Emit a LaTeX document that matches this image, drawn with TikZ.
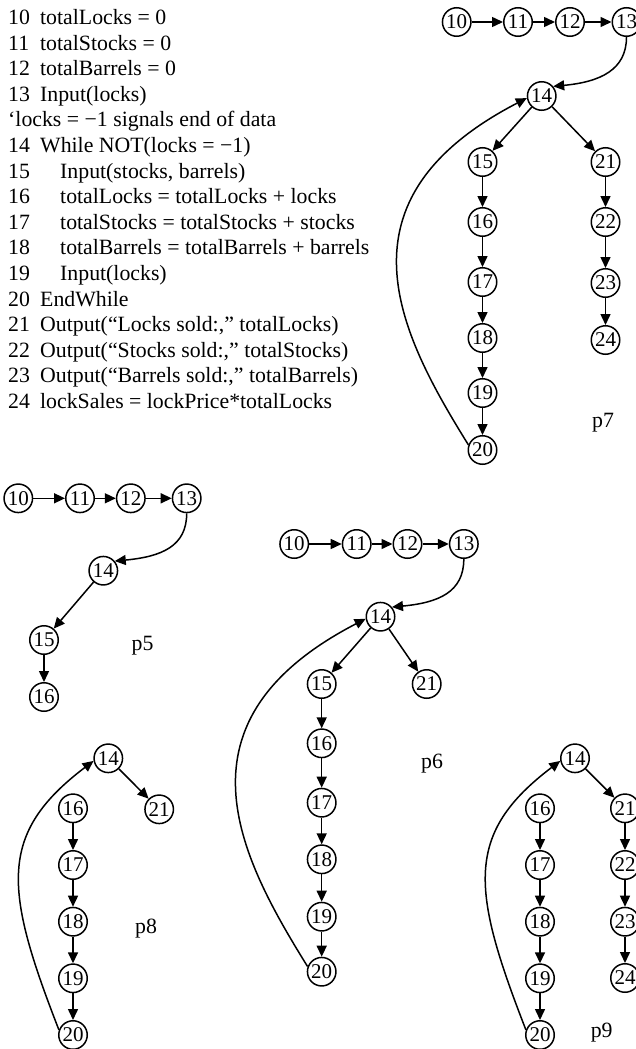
\documentclass[tikz,border=0pt]{standalone}
\usepackage{fontspec}
\setmainfont{Liberation Serif}
\usetikzlibrary{arrows.meta}
\begin{document}
\begin{tikzpicture}[x=1pt,y=-1pt,
  nd/.style={circle,draw,line width=1.5pt,minimum size=28.5pt,inner sep=0pt,font=\fontsize{21}{21}\selectfont},
  ar/.style={line width=1.5pt,-{Triangle[length=11pt,width=10pt]}},
  code/.style={anchor=base west,inner sep=0pt,font=\fontsize{21.8}{25.6}\selectfont},
  lbl/.style={anchor=base,inner sep=0pt,font=\fontsize{21.8}{25.6}\selectfont}]
\useasboundingbox (0,0) rectangle (635,1049);

% ---- code listing ----
\node[code] (t10) at (8,24.5) {\makebox[32pt][l]{10}totalLocks = 0};
\node[code] (t11) at (8,50.1) {\makebox[32pt][l]{11}totalStocks = 0};
\node[code] (t12) at (8,75.7) {\makebox[32pt][l]{12}totalBarrels = 0};
\node[code] (t13) at (8,101.3) {\makebox[32pt][l]{13}Input(locks)};
\node[code] (tc) at (8,126.9) {‘locks = −1 signals end of data};
\node[code] (t14) at (8,152.5) {\makebox[32pt][l]{14}While NOT(locks = −1)};
\node[code] (t15) at (8,178.1) {\makebox[52pt][l]{15}Input(stocks, barrels)};
\node[code] (t16) at (8,203.7) {\makebox[52pt][l]{16}totalLocks = totalLocks + locks};
\node[code] (t17) at (8,229.3) {\makebox[52pt][l]{17}totalStocks = totalStocks + stocks};
\node[code] (t18) at (8,254.9) {\makebox[52pt][l]{18}totalBarrels = totalBarrels + barrels};
\node[code] (t19) at (8,280.5) {\makebox[52pt][l]{19}Input(locks)};
\node[code] (t20) at (8,306.1) {\makebox[32pt][l]{20}EndWhile};
\node[code] (t21) at (8,331.7) {\makebox[32pt][l]{21}Output(“Locks sold:,” totalLocks)};
\node[code] (t22) at (8,357.3) {\makebox[32pt][l]{22}Output(“Stocks sold:,” totalStocks)};
\node[code] (t23) at (8,382.9) {\makebox[32pt][l]{23}Output(“Barrels sold:,” totalBarrels)};
\node[code] (t24) at (8,408.5) {\makebox[32pt][l]{24}lockSales = lockPrice*totalLocks};

% ---- p7 ----
\node[nd] (a10) at (456.7,22) {10};
\node[nd] (a11) at (518,22) {11};
\node[nd] (a12) at (570,22) {12};
\node[nd] (a13) at (626.5,22) {13};
\node[nd] (a14) at (541.7,96) {14};
\node[nd] (a15) at (482.5,162) {15};
\node[nd] (a16) at (482.5,222) {16};
\node[nd] (a17) at (482.5,282) {17};
\node[nd] (a18) at (482.5,338) {18};
\node[nd] (a19) at (482.5,393) {19};
\node[nd] (a20) at (482.5,450) {20};
\node[nd] (a21) at (605.5,162) {21};
\node[nd] (a22) at (605.5,222) {22};
\node[nd] (a23) at (605.5,283) {23};
\node[nd] (a24) at (605.5,340) {24};
\node[lbl] (la) at (603,427) {p7};
\draw[ar] (a10) -- (a11);
\draw[ar] (a11) -- (a12);
\draw[ar] (a12) -- (a13);
\draw[ar] (a13.south) .. controls +(0,33) and +(46.8,-4.4) .. (a14.40);
\draw[ar] (a14) -- (a15);
\draw[ar] (a14) -- (a21);
\draw[ar] (a15) -- (a16);
\draw[ar] (a16) -- (a17);
\draw[ar] (a17) -- (a18);
\draw[ar] (a18) -- (a19);
\draw[ar] (a19) -- (a20);
\draw[ar] (a21) -- (a22);
\draw[ar] (a22) -- (a23);
\draw[ar] (a23) -- (a24);
\draw[ar] (a20.160) .. controls +(-69.5,-111.8) and +(-196.8,102) .. (a14.188);

% ---- p5 ----
\node[nd] (b10) at (18.3,498.3) {10};
\node[nd] (b11) at (80,498.3) {11};
\node[nd] (b12) at (130.8,498.3) {12};
\node[nd] (b13) at (186.7,498.3) {13};
\node[nd] (b14) at (103.3,570.7) {14};
\node[nd] (b15) at (44,640) {15};
\node[nd] (b16) at (44,697) {16};
\node[lbl] (lb) at (142.5,650) {p5};
\draw[ar] (b10) -- (b11);
\draw[ar] (b11) -- (b12);
\draw[ar] (b12) -- (b13);
\draw[ar] (b13.south) .. controls +(0,33) and +(46.8,-4.4) .. (b14.40);
\draw[ar] (b14) -- (b15);
\draw[ar] (b15) -- (b16);

% ---- p6 ----
\node[nd] (c10) at (294.2,544) {10};
\node[nd] (c11) at (356.7,544) {11};
\node[nd] (c12) at (407.5,544) {12};
\node[nd] (c13) at (463.8,544) {13};
\node[nd] (c14) at (380.5,616.7) {14};
\node[nd] (c15) at (321.7,684) {15};
\node[nd] (c21) at (426.7,684) {21};
\node[nd] (c16) at (321.7,743.3) {16};
\node[nd] (c17) at (321.7,802.7) {17};
\node[nd] (c18) at (321.7,859.3) {18};
\node[nd] (c19) at (321.7,916.7) {19};
\node[nd] (c20) at (321.7,971.7) {20};
\node[lbl] (lc) at (432,768) {p6};
\draw[ar] (c10) -- (c11);
\draw[ar] (c11) -- (c12);
\draw[ar] (c12) -- (c13);
\draw[ar] (c13.south) .. controls +(0,33) and +(46.8,-4.4) .. (c14.40);
\draw[ar] (c14) -- (c15);
\draw[ar] (c14) -- (c21);
\draw[ar] (c15) -- (c16);
\draw[ar] (c16) -- (c17);
\draw[ar] (c17) -- (c18);
\draw[ar] (c18) -- (c19);
\draw[ar] (c19) -- (c20);
\draw[ar] (c20.160) .. controls +(-69.5,-111.8) and +(-196.8,102) .. (c14.188);

% ---- p8 ----
\node[nd] (d14) at (108.3,758.3) {14};
\node[nd] (d21) at (159.2,809.3) {21};
\node[nd] (d16) at (73,808.3) {16};
\node[nd] (d17) at (73,865) {17};
\node[nd] (d18) at (73,921.7) {18};
\node[nd] (d19) at (73,978.3) {19};
\node[nd] (d20) at (73,1035) {20};
\node[lbl] (ld) at (146,933) {p8};
\draw[ar] (d14) -- (d21);
\draw[ar] (d16) -- (d17);
\draw[ar] (d17) -- (d18);
\draw[ar] (d18) -- (d19);
\draw[ar] (d19) -- (d20);
\draw[ar] (d20.160) .. controls +(-54.9,-140.9) and +(-95.9,72.7) .. (d14.190);

% ---- p9 ----
\node[nd] (e14) at (575,758.3) {14};
\node[nd] (e21) at (625,808.3) {21};
\node[nd] (e22) at (625,865) {22};
\node[nd] (e23) at (625,921.7) {23};
\node[nd] (e24) at (625,978) {24};
\node[nd] (e16) at (540,808.3) {16};
\node[nd] (e17) at (540,865) {17};
\node[nd] (e18) at (540,921.7) {18};
\node[nd] (e19) at (540,978.3) {19};
\node[nd] (e20) at (540,1035) {20};
\node[lbl] (le) at (601.7,1037) {p9};
\draw[ar] (e14) -- (e21);
\draw[ar] (e21) -- (e22);
\draw[ar] (e22) -- (e23);
\draw[ar] (e23) -- (e24);
\draw[ar] (e16) -- (e17);
\draw[ar] (e17) -- (e18);
\draw[ar] (e18) -- (e19);
\draw[ar] (e19) -- (e20);
\draw[ar] (e20.160) .. controls +(-54.9,-140.9) and +(-95.9,72.7) .. (e14.190);
\end{tikzpicture}
\end{document}
